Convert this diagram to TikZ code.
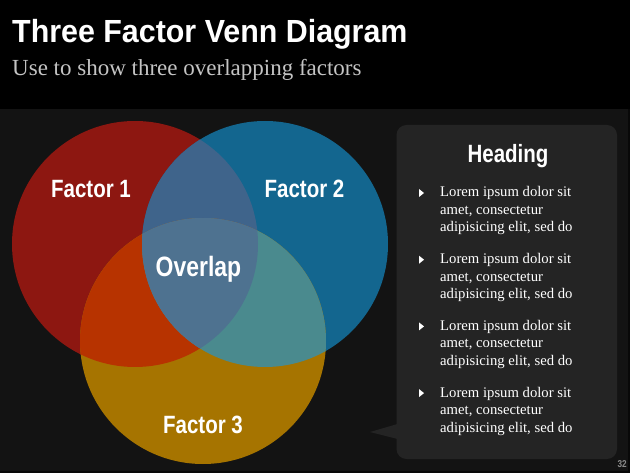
\documentclass[tikz,border=0pt]{standalone}
\usepackage{fontspec}
\setmainfont{Liberation Serif}
\newfontfamily\cond[FakeStretch=0.82]{Liberation Sans}
\newfontfamily\titlefont[FakeStretch=0.95]{Liberation Sans}
\definecolor{bgc}{HTML}{131313}
\definecolor{boxc}{HTML}{242424}
\definecolor{redc}{HTML}{8D1711}
\definecolor{bluec}{HTML}{13668F}
\definecolor{orc}{HTML}{A67400}
\definecolor{rbc}{HTML}{3F648B}
\definecolor{roc}{HTML}{B73300}
\definecolor{boc}{HTML}{4A8A8E}
\definecolor{allc}{HTML}{4E7290}
\definecolor{subc}{HTML}{C4C4C4}
\definecolor{pgc}{HTML}{8A8A8A}
\tikzset{
  factor/.style={text=white, font=\cond\bfseries\fontsize{25}{28}\selectfont, inner sep=0pt, anchor=base},
  bodytext/.style={text=white, font=\fontsize{14.7}{17}\selectfont, anchor=base west, inner sep=0pt},
  bullettri/.style={fill=white, draw=none},
}
\begin{document}
\begin{tikzpicture}[x=1pt,y=-1pt]
\useasboundingbox (0,0) rectangle (630,473);
\fill[bgc] (0,0) rectangle (630,473);
\fill[black] (0,0) rectangle (630,109);
\fill[black!60!bgc] (627.5,109) rectangle (630,473);
\fill[black!60!bgc] (0,470.5) rectangle (630,473);
% title
\node[anchor=base west, inner sep=0pt, text=white, font=\titlefont\bfseries\fontsize{32}{35}\selectfont] (title) at (12,43) {Three Factor Venn Diagram};
\node[anchor=base west, inner sep=0pt, text=subc, font=\fontsize{23}{26}\selectfont] (subtitle) at (12,76) {Use to show three overlapping factors};
% venn
\def\R{123}
\coordinate (cr) at (135,244);
\coordinate (cb) at (265,244);
\coordinate (co) at (203,341);
\fill[redc] (cr) circle (\R);
\fill[bluec] (cb) circle (\R);
\fill[orc] (co) circle (\R);
\begin{scope}\clip (cr) circle (\R); \fill[rbc] (cb) circle (\R);\end{scope}
\begin{scope}\clip (cr) circle (\R); \fill[roc] (co) circle (\R);\end{scope}
\begin{scope}\clip (cb) circle (\R); \fill[boc] (co) circle (\R);\end{scope}
\begin{scope}\clip (cr) circle (\R); \clip (cb) circle (\R); \fill[allc] (co) circle (\R);\end{scope}
\node[factor] (f1) at (91,198) {Factor 1};
\node[factor] (f2) at (304.5,198) {Factor 2};
\node[factor] (f3) at (203,433) {Factor 3};
\node[factor, font=\cond\bfseries\fontsize{28}{31}\selectfont] (ov) at (198.5,277) {Overlap};
% callout
\fill[boxc, rounded corners=10pt] (396.5,125) rectangle (617,459);
\fill[boxc] (397.5,424) -- (370,432) -- (397.5,439) -- cycle;
\node[text=white, inner sep=0pt, anchor=base, font=\cond\bfseries\fontsize{25}{28}\selectfont] (head) at (508,163) {Heading};
\foreach \g/\y in {1/197,2/263.7,3/330.4,4/397.1}{
  \fill[bullettri] (419,\y-8) -- (424,\y-4) -- (419,\y) -- cycle;
  \node[bodytext] (l\g a) at (440,\y) {Lorem ipsum dolor sit};
  \node[bodytext] (l\g b) at (440,\y+17.5) {amet, consectetur};
  \node[bodytext] (l\g c) at (440,\y+35) {adipisicing elit, sed do};
}
\node[text=pgc, inner sep=0pt, anchor=base east, font=\cond\bfseries\fontsize{10}{11}\selectfont] (pg) at (627,467.5) {32};
\end{tikzpicture}
\end{document}
